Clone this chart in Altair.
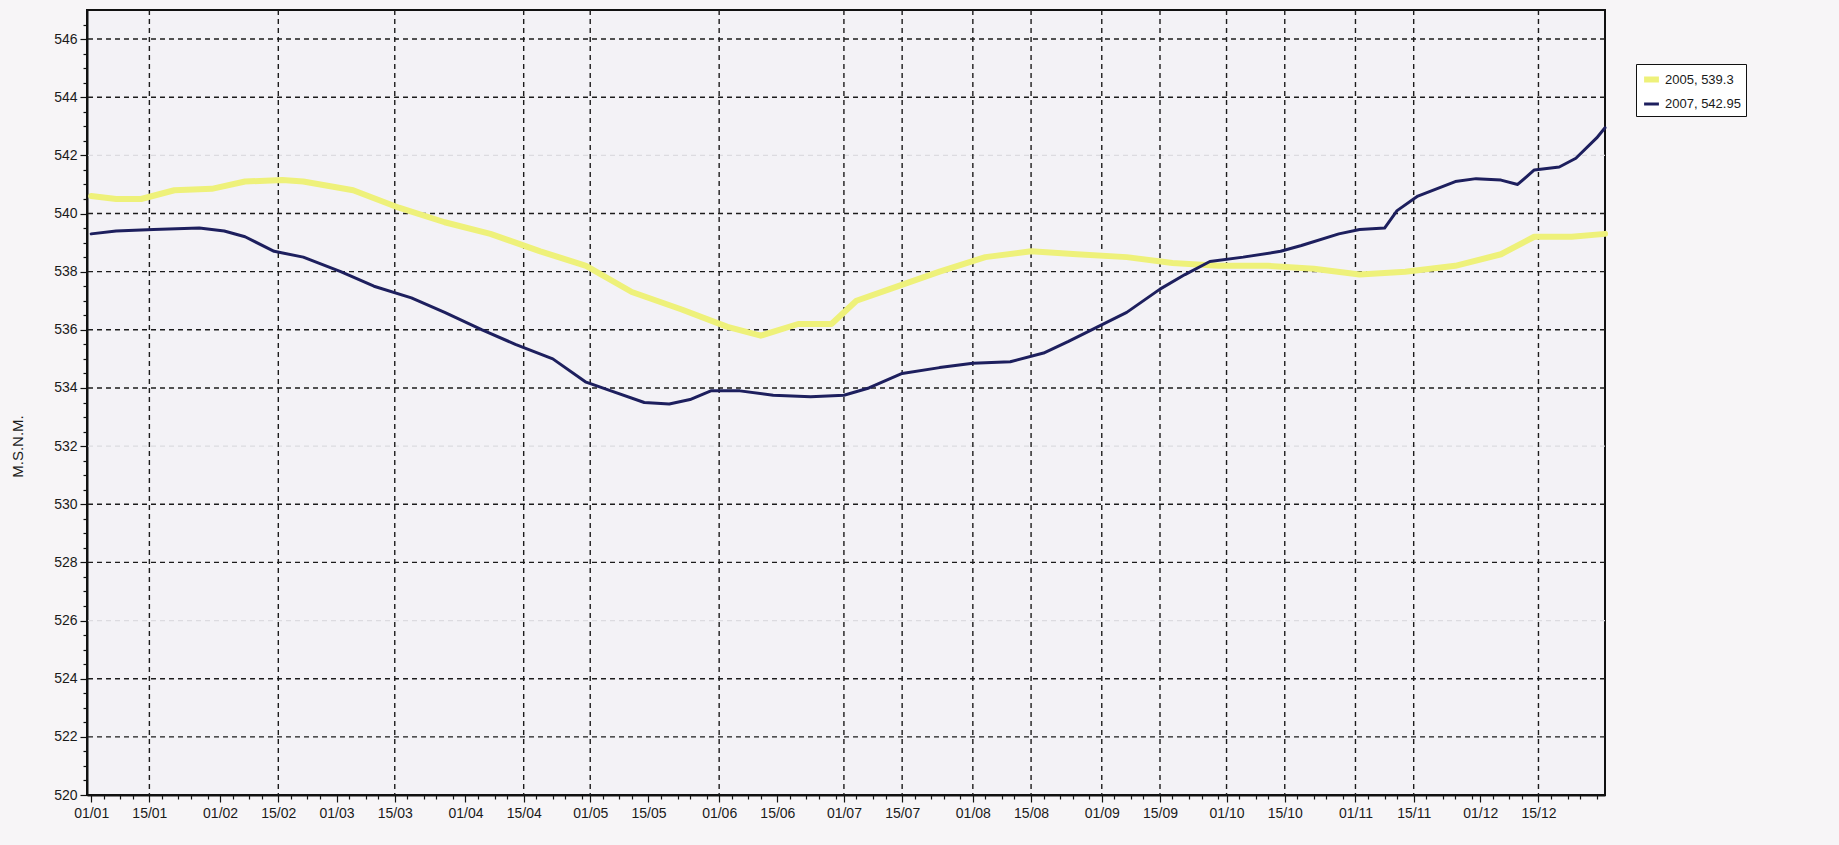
import altair as alt
import pandas as pd

YEAR = 2007

# Daily lake level (m s.l.m.) sampled along the year, one list per season
dates_2005 = ["01-01", "01-07", "01-13", "01-21", "01-30", "02-07", "02-16", "02-21",
              "03-05", "03-16", "03-27", "04-07", "04-19", "04-30", "05-11", "05-23",
              "06-03", "06-11", "06-20", "06-28", "07-04", "07-12", "07-24", "08-04",
              "08-15", "08-26", "09-07", "09-18", "09-29", "10-11", "10-22", "11-02",
              "11-13", "11-25", "12-06", "12-14", "12-23", "12-31"]
level_2005 = [540.6, 540.5, 540.5, 540.8, 540.85, 541.1, 541.15, 541.1,
              540.8, 540.2, 539.7, 539.3, 538.7, 538.2, 537.3, 536.7,
              536.1, 535.8, 536.2, 536.2, 537.0, 537.4, 538.0, 538.5,
              538.7, 538.6, 538.5, 538.3, 538.2, 538.2, 538.1, 537.9,
              538.0, 538.2, 538.6, 539.2, 539.2, 539.3]

dates_2007 = ["01-01", "01-07", "01-16", "01-27", "02-02", "02-07", "02-14", "02-21",
              "03-02", "03-10", "03-19", "03-27", "04-05", "04-13", "04-22", "04-30",
              "05-06", "05-14", "05-20", "05-25", "05-30", "06-06", "06-14", "06-23",
              "07-01", "07-07", "07-15", "07-24", "08-01", "08-10", "08-18", "08-24",
              "08-31", "09-07", "09-15", "09-21", "09-27", "10-05", "10-14", "10-19",
              "10-28", "11-02", "11-08", "11-11", "11-16", "11-25", "11-30", "12-06",
              "12-10", "12-14", "12-20", "12-24", "12-29", "12-31"]
level_2007 = [539.3, 539.4, 539.45, 539.5, 539.4, 539.2, 538.7, 538.5,
              538.0, 537.5, 537.1, 536.6, 536.0, 535.5, 535.0, 534.2,
              533.9, 533.5, 533.45, 533.6, 533.9, 533.9, 533.75, 533.7,
              533.75, 534.0, 534.5, 534.7, 534.85, 534.9, 535.2, 535.6,
              536.1, 536.6, 537.4, 537.9, 538.35, 538.5, 538.7, 538.9,
              539.3, 539.45, 539.5, 540.1, 540.6, 541.1, 541.2, 541.15,
              541.0, 541.5, 541.6, 541.9, 542.6, 542.95]

series_names = ["2005, 539.3", "2007, 542.95"]
series_colors = ["#eef17a", "#1d1f5e"]
series_widths = [6, 3]

# Grid lines drawn on the plot
y_grid_dark = [522, 524, 528, 530, 534, 536, 538, 540, 544, 546]
y_grid_faint = [526, 532, 542]
x_grid_dates = ["01-15", "02-15", "03-15", "04-15", "05-01", "06-01", "07-01", "07-15",
                "08-01", "08-15", "09-01", "09-15", "10-01", "10-15", "11-01", "11-15",
                "12-15"]


def to_dates(md):
    return pd.to_datetime([f"{YEAR}-{d}" for d in md])


lines = pd.concat([
    pd.DataFrame({"date": to_dates(dates_2005), "level": level_2005, "series": series_names[0]}),
    pd.DataFrame({"date": to_dates(dates_2007), "level": level_2007, "series": series_names[1]}),
], ignore_index=True)

hgrid_dark = pd.DataFrame({"level": y_grid_dark})
hgrid_faint = pd.DataFrame({"level": y_grid_faint})
vgrid = pd.DataFrame({"date": to_dates(x_grid_dates)})

x_scale = alt.Scale(domain=[alt.DateTime(year=YEAR - 1, month=12, date=31),
                            alt.DateTime(year=YEAR, month=12, date=31)])
y_scale = alt.Scale(domain=[520, 547], nice=False, zero=False)

# axis ticks: labelled majors on the 1st and 15th, small ticks in between
x_tick_values = [alt.DateTime(year=YEAR, month=m, date=d)
                 for m in range(1, 13)
                 for d in [1, 4, 8, 11, 15, 18, 22, 25, 29]
                 if not (m == 2 and d == 29)]
x_major_test = "date(datum.value) == 1 || date(datum.value) == 15"
y_tick_values = [520 + 0.5 * i for i in range(0, 54)]
y_major_test = "datum.value % 2 == 0"

x_axis = alt.Axis(
    values=x_tick_values,
    labelExpr=f"({x_major_test}) ? timeFormat(datum.value, '%d/%m') : ''",
    tickSize={"condition": {"test": x_major_test, "value": 7}, "value": 4},
    title=None, grid=False, domainColor="#111", domainWidth=2,
    tickColor="#111", tickWidth=1.2, labelFont="Liberation Sans", labelFontSize=14,
    labelColor="#1a1a1a", labelPadding=4, labelOverlap=False, labelFlush=False,
)
y_axis = alt.Axis(
    values=y_tick_values,
    labelExpr=f"({y_major_test}) ? format(datum.value, 'd') : ''",
    tickSize={"condition": {"test": y_major_test, "value": 7}, "value": 4},
    title="M.S.N.M.", titleX=-62, titleY=436, titleFont="Liberation Sans",
    titleFontSize=15, titleFontWeight="normal", titleColor="#1a1a1a",
    grid=False, domainColor="#111", domainWidth=2,
    tickColor="#111", tickWidth=1.2, labelFont="Liberation Sans", labelFontSize=14,
    labelColor="#1a1a1a", labelPadding=3, labelOverlap=False,
)

dash = [5, 4]

h_dark = alt.Chart(hgrid_dark).mark_rule(color="#1c1c1c", strokeWidth=1.4, strokeDash=dash).encode(
    y=alt.Y("level:Q", scale=y_scale, axis=y_axis)
)
h_faint = alt.Chart(hgrid_faint).mark_rule(color="#dcdbe0", strokeWidth=1.2, strokeDash=dash).encode(
    y=alt.Y("level:Q", scale=y_scale, axis=y_axis)
)
v_dark = alt.Chart(vgrid).mark_rule(color="#1c1c1c", strokeWidth=1.4, strokeDash=dash).encode(
    x=alt.X("date:T", scale=x_scale, axis=x_axis)
)

series = alt.Chart(lines).mark_line(interpolate="linear", strokeJoin="round", strokeCap="round").encode(
    x=alt.X("date:T", scale=x_scale, axis=x_axis),
    y=alt.Y("level:Q", scale=y_scale, axis=y_axis),
    color=alt.Color(
        "series:N",
        scale=alt.Scale(domain=series_names, range=series_colors),
        legend=alt.Legend(
            title=None, orient="none", legendX=1549, legendY=54,
            symbolType="stroke", symbolStrokeWidth=3, symbolSize=220,
            labelFont="Liberation Sans", labelFontSize=13, labelColor="#1a1a1a",
            strokeColor="#111", fillColor="#ffffff", padding=5, rowPadding=3,
            labelOffset=3,
        ),
    ),
    strokeWidth=alt.StrokeWidth(
        "series:N", scale=alt.Scale(domain=series_names, range=series_widths), legend=None
    ),
    order=alt.Order("date:T"),
)

chart = alt.layer(h_faint, h_dark, v_dark, series).properties(
    width=1518,
    height=785,
    autosize=alt.AutoSizeParams(type="none"),
    padding={"left": 87, "top": 10, "right": 234, "bottom": 50},
    background="#f7f5f7",
).configure_view(
    fill="#f3f2f6", stroke="#111", strokeWidth=2
)

chart.save("out.html", embed_options={"renderer": "svg", "actions": False})
